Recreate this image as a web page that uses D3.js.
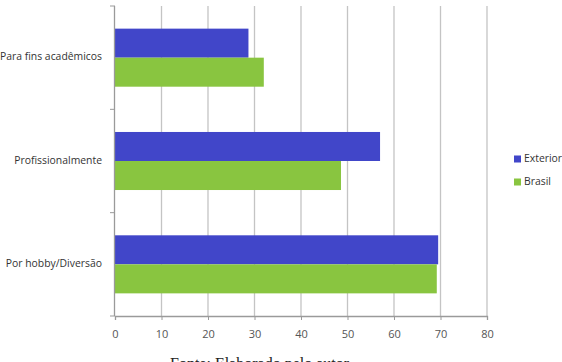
<!DOCTYPE html>
<html>
<head>
<meta charset="utf-8">
<script src="https://cdn.jsdelivr.net/npm/d3@7"></script>
<style>
  body { margin: 0; background: #fff; }
  svg { display: block; }
</style>
</head>
<body>
<svg id="chart" width="562" height="362"></svg>
<script>
const categories = ["Para fins acadêmicos", "Profissionalmente", "Por hobby/Diversão"];
const series = ["Exterior", "Brasil"];
const exteriorValues = [28.7, 57.0, 69.5];
const brasilValues = [32.0, 48.6, 69.2];
const xTicks = [0, 10, 20, 30, 40, 50, 60, 70, 80];
const colors = { Exterior: "#4146c9", Brasil: "#89c540" };
const caption = "Fonte: Elaborado pelo autor";

const svg = d3.select("#chart");
const x = d3.scaleLinear().domain([0, 80]).range([115, 487]);
const y = d3.scaleBand().domain(categories).range([6, 316]);
const y1 = d3.scaleBand().domain(series).range([0, y.bandwidth()]).paddingOuter(0.78);

const valuesBySeries = { Exterior: exteriorValues, Brasil: brasilValues };

// gridlines
svg.append("g").selectAll("line").data(xTicks.slice(1)).join("line")
  .attr("x1", d => x(d)).attr("x2", d => x(d))
  .attr("y1", 6).attr("y2", 316)
  .attr("stroke", "#c4c4c4").attr("stroke-width", 1.3);

// bars
categories.forEach((cat, i) => {
  series.forEach(s => {
    svg.append("rect")
      .attr("x", x(0))
      .attr("y", y(cat) + y1(s))
      .attr("width", x(valuesBySeries[s][i]) - x(0))
      .attr("height", y1.bandwidth())
      .attr("fill", colors[s]);
  });
});

// x axis
const xAxis = svg.append("g").attr("transform", "translate(0,316)")
  .call(d3.axisBottom(x).tickValues(xTicks).tickSize(4).tickPadding(10));
xAxis.select(".domain").attr("stroke", "#9a9a9a").attr("stroke-width", 1.3);
xAxis.selectAll(".tick line").attr("stroke", "#9a9a9a");
xAxis.selectAll("text").attr("fill", "#555").attr("font-family", "Open Sans").attr("font-size", 11);

// y axis
svg.append("line").attr("x1", 114.5).attr("x2", 114.5).attr("y1", 6).attr("y2", 316)
  .attr("stroke", "#9a9a9a").attr("stroke-width", 1.3);
const bounds = categories.map(c => y(c)).concat([y.range()[1]]);
svg.append("g").selectAll("line").data(bounds).join("line")
  .attr("x1", 110).attr("x2", 115)
  .attr("y1", d => d).attr("y2", d => d)
  .attr("stroke", "#9a9a9a");

svg.append("g").selectAll("text").data(categories).join("text")
  .attr("x", 102)
  .attr("y", d => y(d) + y.bandwidth() / 2)
  .attr("text-anchor", "end")
  .attr("dominant-baseline", "middle")
  .attr("font-family", "Open Sans").attr("font-size", 10.4)
  .attr("fill", "#333")
  .text(d => d);

// legend
const legend = svg.append("g").attr("transform", "translate(514,159)");
series.forEach((s, i) => {
  legend.append("rect").attr("x", 0).attr("y", i * 23 - 3.5).attr("width", 7).attr("height", 7).attr("fill", colors[s]);
  legend.append("text").attr("x", 10).attr("y", i * 23)
    .attr("dominant-baseline", "middle")
    .attr("font-family", "Open Sans").attr("font-size", 10.4)
    .attr("fill", "#333").text(s);
});

// caption (cut off at bottom, as in the source)
svg.append("text").attr("x", 170).attr("y", 369)
  .attr("font-family", "Liberation Serif").attr("font-size", 16)
  .attr("fill", "#222").text(caption);
</script>
</body>
</html>
